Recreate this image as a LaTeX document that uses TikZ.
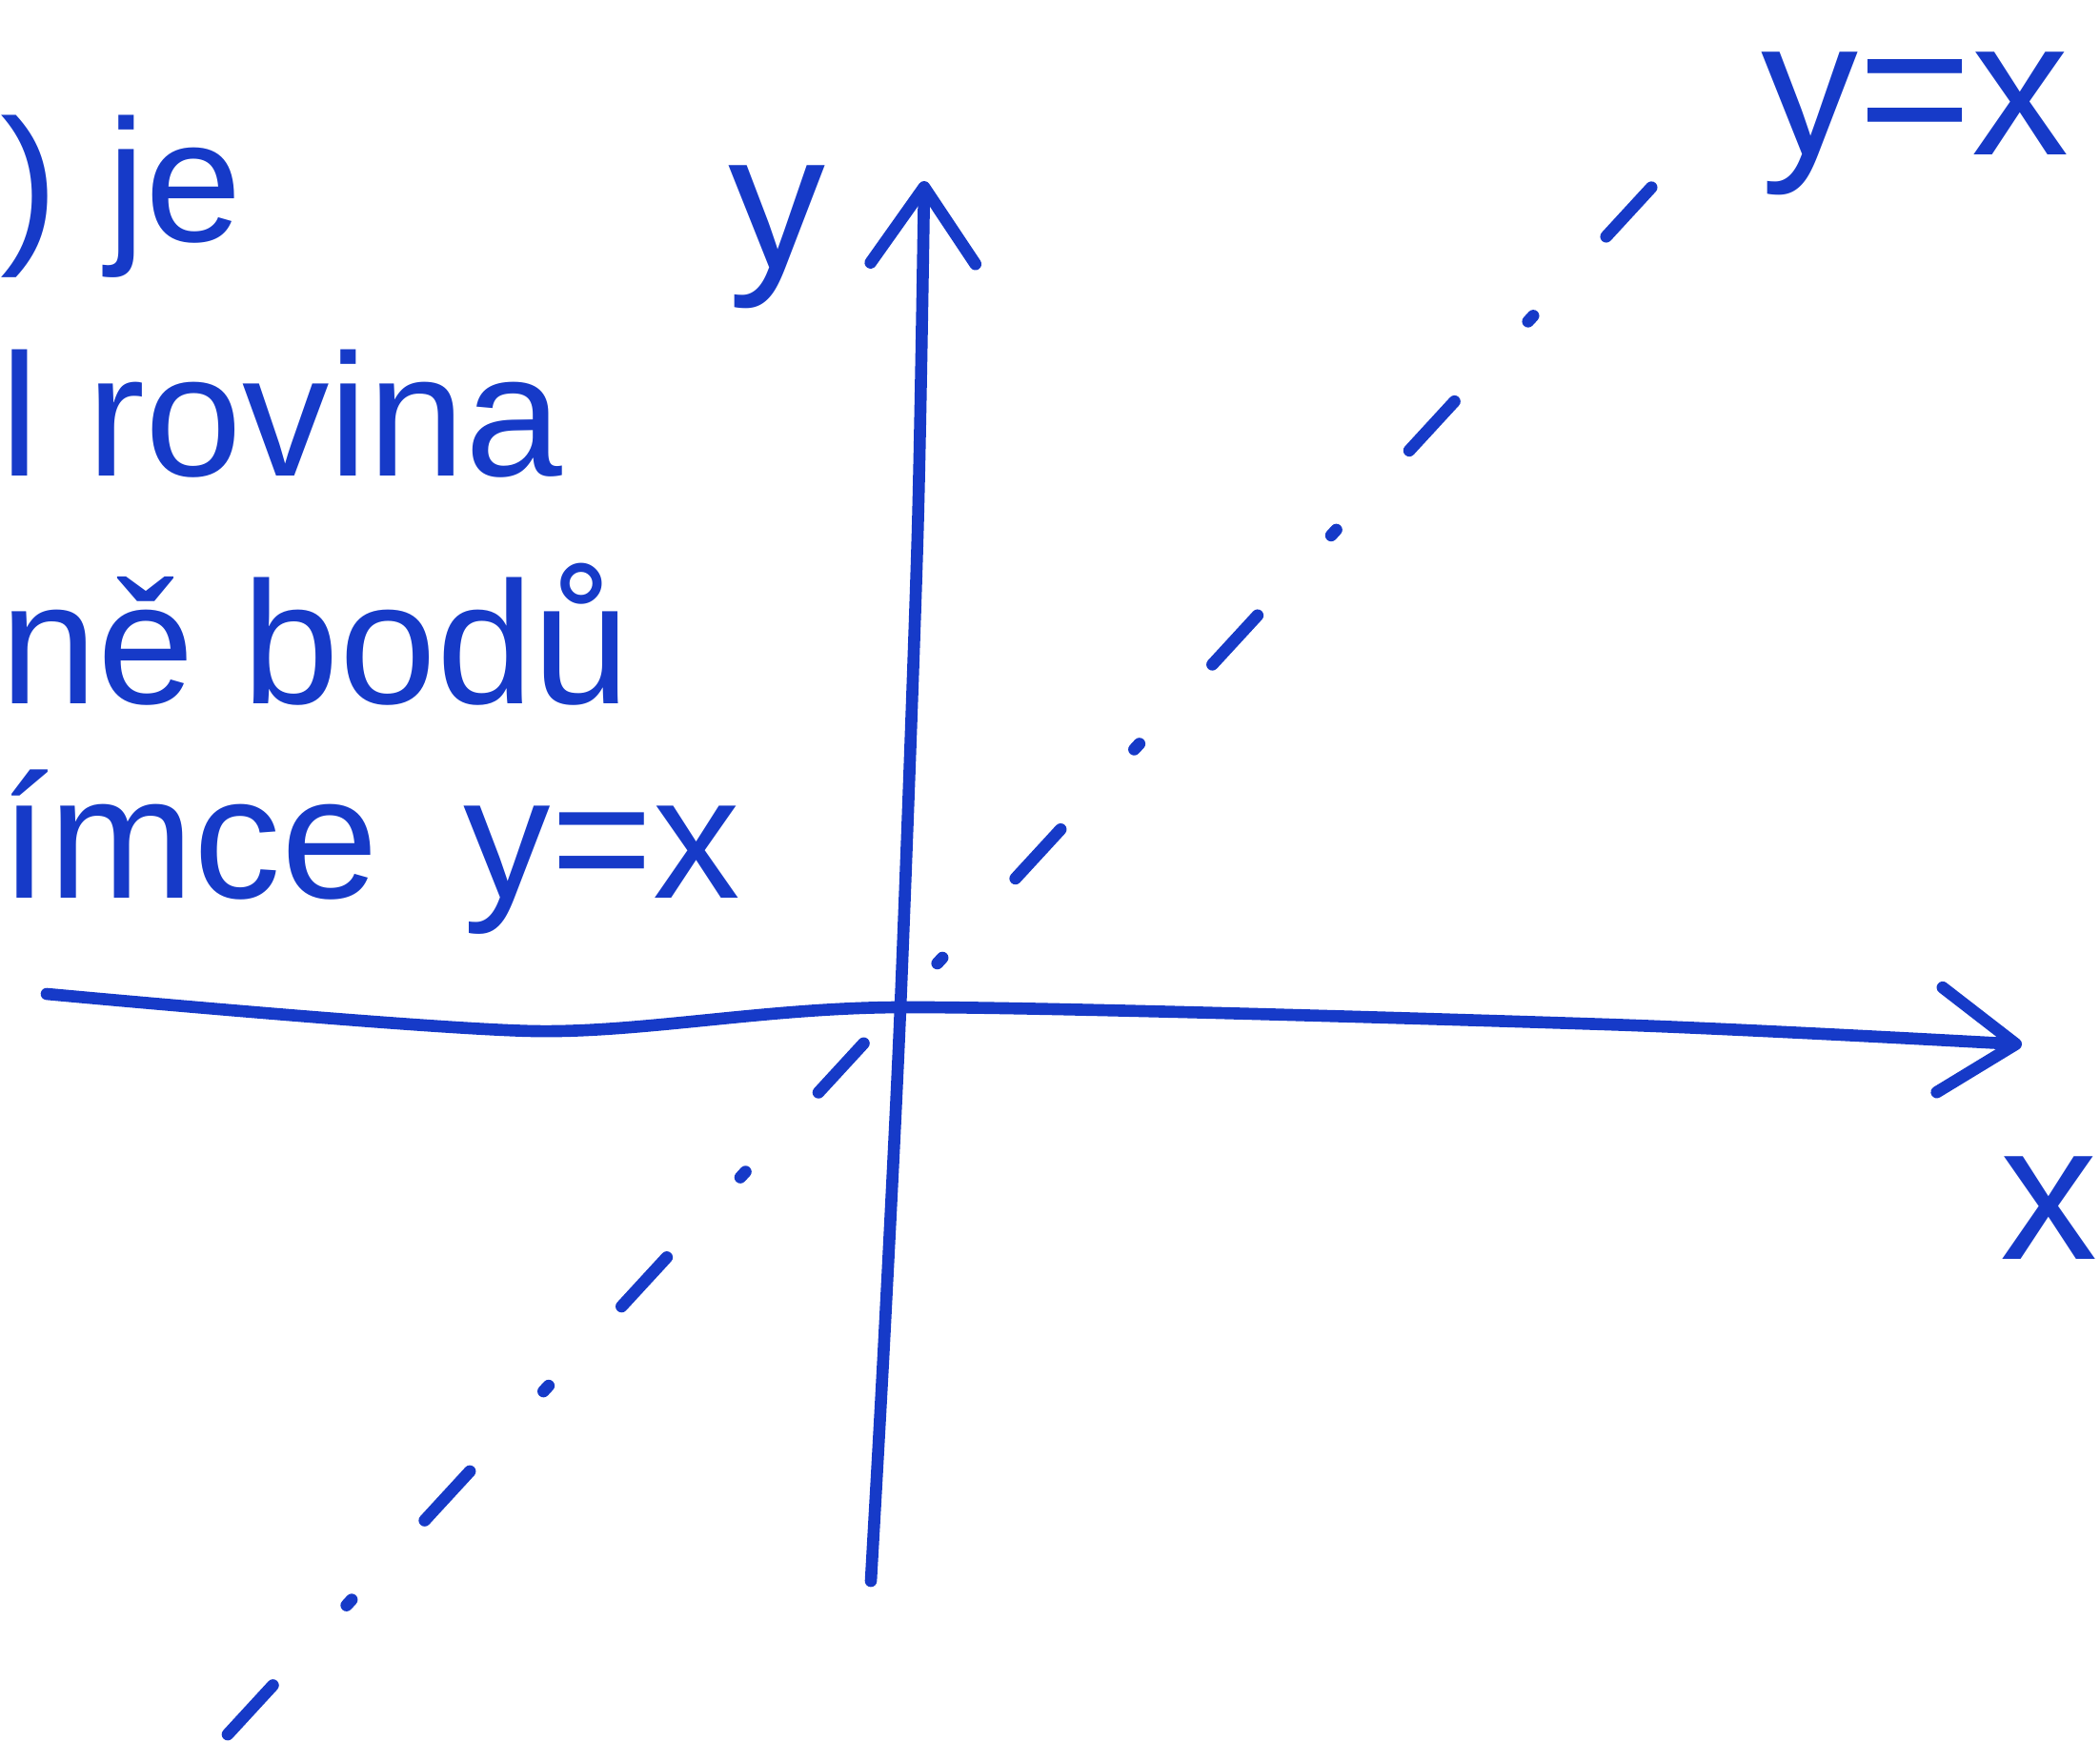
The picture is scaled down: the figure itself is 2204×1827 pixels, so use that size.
\documentclass[tikz,border=0pt]{standalone}
\usepackage{fontspec}
\setmainfont{Liberation Sans}
\usetikzlibrary{arrows.meta}
\definecolor{handblue}{RGB}{22,58,200}

\begin{document}
\begin{tikzpicture}[
  x=0.01cm,y=-0.01cm,
  axis/.style={line width=3.6pt,handblue,line cap=round,line join=round,
               -{Straight Barb[length=8mm,width=11mm,round]}},
  diag/.style={line width=3.6pt,handblue,line cap=round,
               dash pattern=on 7mm off 11.4mm on 0.8mm off 11.3mm},
  note/.style={handblue,font=\fontsize{52}{60}\selectfont,inner sep=0pt,anchor=base west},
  lbl/.style={handblue,font=\fontsize{58}{66}\selectfont,inner sep=0pt}
]
  \useasboundingbox (0,0) rectangle (2204,1827);

  % axes
  \coordinate (xl) at (49,1043);
  \coordinate (xr) at (2122,1096);
  \coordinate (yb) at (914,1659);
  \coordinate (yt) at (970,190);
  \draw[axis] plot[smooth,tension=0.45] coordinates {(xl) (562,1082) (942,1057) (1687,1075) (xr)};
  \draw[axis] plot[smooth,tension=0.45] coordinates {(yb) (928,1406) (945,1057) (963,562) (yt)};

  % the line y=x
  \coordinate (dl) at (239,1820);
  \coordinate (dr) at (1778,148);
  \draw[diag] (dl) -- (dr);

  \node[lbl,anchor=base] (ylab) at (815,281) {y};
  \node[lbl,anchor=base] (xlab) at (2150,1321) {x};
  \node[lbl,anchor=base west] (diaglab) at (1848,162) {y=x};

  % text cut off at the left edge
  \node[note] (l1) at (0,253) {) je};
  \node[note] (l2) at (0,499) {l rovina};
  \node[note] (l3) at (0,738) {ně bodů};
  \node[note] (l4) at (0,942) {ímce\hspace{0.9cm}y=x};
\end{tikzpicture}
\end{document}
